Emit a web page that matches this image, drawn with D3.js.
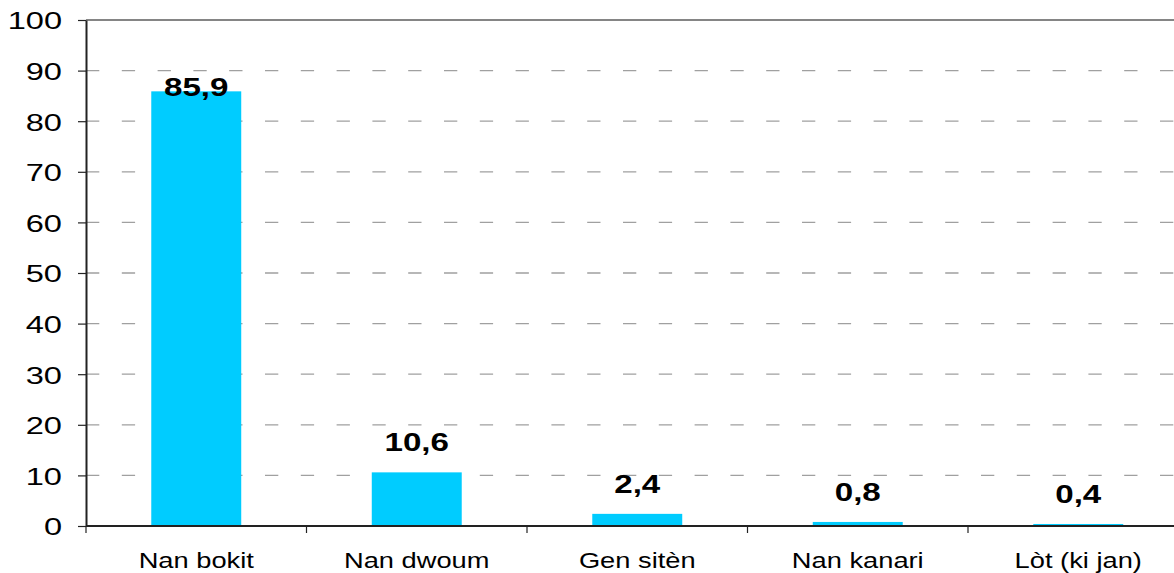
<!DOCTYPE html>
<html>
<head>
<meta charset="utf-8">
<script src="https://cdn.jsdelivr.net/npm/d3@7"></script>
<style>
  html, body { margin: 0; padding: 0; background: #fff; }
  svg { display: block; font-family: "Liberation Sans", Arial, sans-serif; }
</style>
</head>
<body>
<div id="chart"></div>
<script>
const categories = ['Nan bokit', 'Nan dwoum', 'Gen sitèn', 'Nan kanari', 'Lòt (ki jan)'];
const values = [85.9, 10.6, 2.4, 0.8, 0.4];
const yTicks = [0, 10, 20, 30, 40, 50, 60, 70, 80, 90, 100];

const width = 1174, height = 573;
const margin = { top: 20, left: 86, bottom: 47 };
const plotBottom = height - margin.bottom;

const svg = d3.select('#chart')
    .append('svg')
        .attr('width', width)
        .attr('height', height);

const x = d3.scaleBand()
    .domain(categories)
    .range([margin.left, margin.left + 5 * 220.5])
    .paddingInner(0.592)
    .paddingOuter(0.296);

const y = d3.scaleLinear()
    .domain([0, 100])
    .range([plotBottom, margin.top]);

const fmt = d3.formatLocale({ decimal: ',', thousands: '.', grouping: [3], currency: ['', ''] }).format('.1f');

// dashed gridlines
svg.append('g')
    .selectAll('line')
    .data(yTicks.filter(d => d > 0 && d < 100))
    .enter().append('line')
        .attr('x1', margin.left)
        .attr('x2', width)
        .attr('y1', d => y(d))
        .attr('y2', d => y(d))
        .attr('stroke', '#a0a0a0')
        .attr('stroke-width', 1.3)
        .attr('stroke-dasharray', '13.3,22.5');

// top border of plot area
svg.append('line')
    .attr('x1', margin.left)
    .attr('x2', width)
    .attr('y1', y(100))
    .attr('y2', y(100))
    .attr('stroke', '#858585')
    .attr('stroke-width', 2.2);

// bars
svg.append('g')
    .selectAll('rect')
    .data(values)
    .enter().append('rect')
        .attr('x', (d, i) => x(categories[i]))
        .attr('width', x.bandwidth())
        .attr('y', d => y(d))
        .attr('height', d => y(0) - y(d))
        .attr('fill', '#00ccff');

// value labels (bold, stretched horizontally like the source)
svg.append('g')
    .selectAll('text')
    .data(values)
    .enter().append('text')
        .attr('transform', (d, i) => {
            const cx = x(categories[i]) + x.bandwidth() / 2;
            const by = Math.max(y(d) - 21, 96);
            return 'translate(' + cx + ',' + by + ') scale(1.3,1)';
        })
        .attr('text-anchor', 'middle')
        .attr('font-size', 25.5)
        .attr('font-weight', 'bold')
        .attr('fill', '#000')
        .text(d => fmt(d));

// y axis
const yAxis = d3.axisLeft(y)
    .tickValues(yTicks)
    .tickSize(8)
    .tickSizeOuter(0);

const gy = svg.append('g')
    .attr('transform', 'translate(' + margin.left + ',0)')
    .call(yAxis);

gy.select('.domain').attr('stroke', '#222').attr('stroke-width', 2);
gy.selectAll('.tick line').attr('stroke', '#222').attr('stroke-width', 1.2);
gy.selectAll('.tick text')
    .attr('x', 0)
    .attr('dy', '0.36em')
    .attr('transform', 'translate(-24,0) scale(1.33,1)')
    .attr('font-size', 24.5)
    .attr('font-family', '"Liberation Sans", Arial, sans-serif')
    .attr('fill', '#000');

// x axis line and category separators
svg.append('line')
    .attr('x1', margin.left)
    .attr('x2', width)
    .attr('y1', y(0))
    .attr('y2', y(0))
    .attr('stroke', '#222')
    .attr('stroke-width', 2);

const step = x.step();
svg.append('g')
    .selectAll('line')
    .data(d3.range(categories.length + 1))
    .enter().append('line')
        .attr('x1', i => margin.left + i * step)
        .attr('x2', i => margin.left + i * step)
        .attr('y1', y(0))
        .attr('y2', y(0) + 7)
        .attr('stroke', '#222')
        .attr('stroke-width', 1.2);

svg.append('g')
    .selectAll('text')
    .data(categories)
    .enter().append('text')
        .attr('transform', d => 'translate(' + (x(d) + x.bandwidth() / 2) + ',568) scale(1.24,1)')
        .attr('text-anchor', 'middle')
        .attr('font-size', 22)
        .attr('fill', '#000')
        .text(d => d);
</script>
</body>
</html>
